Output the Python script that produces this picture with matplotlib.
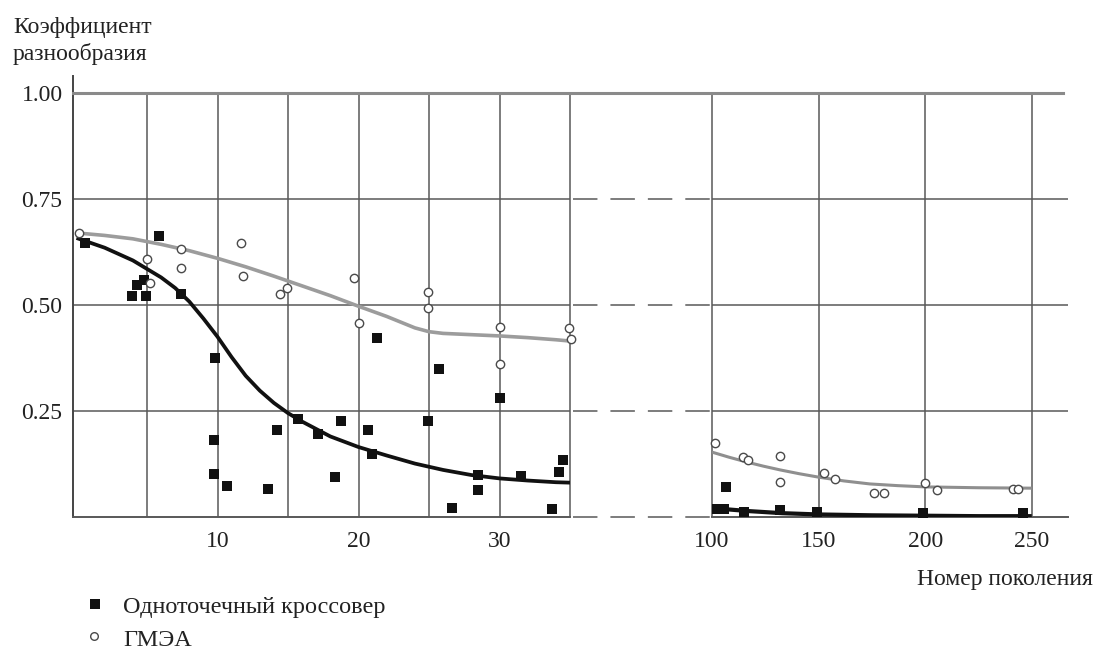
import matplotlib
matplotlib.use("Agg")
import matplotlib.pyplot as plt
from matplotlib.lines import Line2D
import matplotlib.transforms as mtransforms

plt.rcParams['font.family'] = ['Liberation Serif', 'DejaVu Serif']

# ---------------- data ----------------
# left panel (generations 0..35)
sq_left_x = [0.6, 3.9, 4.3, 4.8, 4.9, 5.85, 7.4, 9.8, 9.75, 9.75, 10.7, 13.6, 14.2, 15.7, 17.1,
             18.3, 18.75, 20.7, 20.95, 21.3, 24.9, 25.7, 26.6, 28.5, 28.5, 30.0, 31.5, 33.7, 34.2, 34.5]
sq_left_y = [0.646, 0.521, 0.547, 0.559, 0.521, 0.663, 0.526, 0.375, 0.181, 0.101, 0.073, 0.066, 0.205,
             0.231, 0.196, 0.095, 0.226, 0.205, 0.149, 0.422, 0.226, 0.349, 0.021, 0.099, 0.064, 0.281,
             0.097, 0.019, 0.106, 0.134]
circ_left_x = [0.2, 5.0, 5.2, 7.4, 7.4, 11.7, 11.8, 14.4, 14.9, 19.7, 20.0, 24.9, 24.9, 30.0, 30.0, 34.9, 35.1]
circ_left_y = [0.670, 0.608, 0.552, 0.632, 0.587, 0.646, 0.568, 0.526, 0.540, 0.564, 0.458, 0.531,
               0.493, 0.448, 0.361, 0.446, 0.420]
blk_left_x = [0, 2, 4, 6, 7, 8, 9, 10, 11, 12, 13, 14, 15, 16, 18, 20, 22, 24, 26, 28, 30, 32, 34, 35]
blk_left_y = [0.658, 0.635, 0.605, 0.565, 0.540, 0.508, 0.468, 0.425, 0.377, 0.333, 0.298, 0.269,
              0.245, 0.225, 0.190, 0.165, 0.145, 0.126, 0.111, 0.099, 0.091, 0.086, 0.082, 0.081]
gry_left_x = [0, 2, 4, 6, 8, 10, 12, 14, 16, 18, 20, 22, 24, 25, 26, 28, 30, 32, 34, 35]
gry_left_y = [0.670, 0.664, 0.656, 0.643, 0.628, 0.610, 0.590, 0.568, 0.545, 0.522, 0.497, 0.473,
              0.446, 0.437, 0.433, 0.430, 0.427, 0.423, 0.418, 0.415]

# right panel (generations 100..250)
sq_right_x = [102.5, 105.5, 106.6, 115, 132, 149.3, 199, 245.9]
sq_right_y = [0.020, 0.020, 0.071, 0.012, 0.016, 0.012, 0.010, 0.010]
circ_right_x = [101.4, 114.6, 117, 132, 132, 152.6, 157.7, 176, 180.8, 200, 205.6, 241.4, 243.7]
circ_right_y = [0.175, 0.141, 0.134, 0.144, 0.083, 0.104, 0.090, 0.057, 0.057, 0.080, 0.064, 0.066, 0.066]
gry_right_x = [100, 108, 116, 124, 132, 141, 150, 162, 174, 187, 200, 225, 250]
gry_right_y = [0.153, 0.141, 0.130, 0.120, 0.111, 0.102, 0.094, 0.085, 0.078, 0.074, 0.071, 0.069, 0.068]
blk_right_x = [100, 117, 133, 150, 175, 200, 225, 250]
blk_right_y = [0.021, 0.014, 0.009, 0.006, 0.004, 0.003, 0.002, 0.002]

yticks = [0.25, 0.50, 0.75, 1.00]
ytick_labels = ["0.25", "0.50", "0.75", "1.00"]
xticks_left = [10, 20, 30]
xticks_right = [100, 150, 200, 250]
vgrid_left = [5, 10, 15, 20, 25, 30, 35]
vgrid_right = [100, 150, 200, 250]

label_sq = "Одноточечный кроссовер"
label_circ = "ГМЭА"
ylabel_lines = ["Коэффициент", "разнообразия"]
xlabel = "Номер поколения"

# ---------------- styling ----------------
GRID = '#585858'
GRID_LW = 1.1
FS = 17
TXT = '#222222'

W, H = 1098, 653
fig = plt.figure(figsize=(W / 100, H / 100), dpi=100)

bottom = (H - 517) / H
height = (517 - 76) / H
ax1 = fig.add_axes([73 / W, bottom, 497 / W, height])
ax2 = fig.add_axes([712 / W, bottom, 356 / W, height])

for ax in (ax1, ax2):
    ax.set_ylim(0, 1.04)
    ax.set_facecolor('none')
    for s in ('top', 'right'):
        ax.spines[s].set_visible(False)
    ax.spines['bottom'].set_color(GRID)
    ax.spines['bottom'].set_linewidth(1.4)
    ax.tick_params(length=0, labelsize=FS, labelcolor=TXT)

ax1.set_xlim(-0.25, 35)
ax2.set_xlim(100, 267)

ax1.spines['left'].set_color('#444444')
ax1.spines['left'].set_linewidth(1.4)
ax2.spines['left'].set_visible(False)

# grid
for yv in yticks[:-1]:
    ax1.axhline(yv, color=GRID, lw=GRID_LW, zorder=1)
    ax2.axhline(yv, color=GRID, lw=GRID_LW, zorder=1)
ax1.vlines(vgrid_left, 0, 1.0, color=GRID, lw=GRID_LW, zorder=1, clip_on=False)
ax2.vlines(vgrid_right, 0, 1.0, color=GRID, lw=GRID_LW, zorder=1, clip_on=False)

# top line spanning both panels & dashed gap lines
fig_tr = mtransforms.blended_transform_factory(fig.transFigure, ax1.transData)
x_l = ax1.get_position().x0
x_r1 = ax1.get_position().x1
x_l2 = ax2.get_position().x0
x_r2 = ax2.get_position().x1
fig.add_artist(Line2D([x_l, x_r2 - 5 / W], [1.0, 1.0], transform=fig_tr,
                      color='#8a8a8a', lw=2.2, zorder=1))
for yv in [0.0] + yticks[:-1]:
    fig.add_artist(Line2D([x_r1 + 3 / W, x_l2], [yv, yv], transform=fig_tr,
                          color=GRID, lw=1.1, linestyle=(0, (16, 8.5)), zorder=1))

# ticks
ax1.set_yticks(yticks)
ax1.set_yticklabels(ytick_labels)
ax1.tick_params(axis='y', pad=7.5)
ax1.set_xticks(xticks_left)
ax1.set_xticklabels([str(v) for v in xticks_left])
ax1.tick_params(axis='x', pad=10)
ax2.set_yticks([])
ax2.set_xticks(xticks_right)
ax2.set_xticklabels([str(v) for v in xticks_right])
ax2.tick_params(axis='x', pad=10)

# curves
ax1.plot(gry_left_x, gry_left_y, color='#9c9c9c', lw=2.6, zorder=3, solid_capstyle='butt')
ax1.plot(blk_left_x, blk_left_y, color='#111111', lw=2.7, zorder=3, solid_capstyle='butt')
ax2.plot(gry_right_x, gry_right_y, color='#8f8f8f', lw=2.2, zorder=3, solid_capstyle='butt')
ax2.plot(blk_right_x, blk_right_y, color='#111111', lw=3.0, zorder=3, solid_capstyle='butt')

# markers
sq_kw = dict(marker='s', s=46, color='#111111', linewidths=0, zorder=4, clip_on=False)
ci_kw = dict(marker='o', s=36, facecolors='white', edgecolors='#4a4a4a', linewidths=1.0,
             zorder=5, clip_on=False)
ax1.scatter(sq_left_x, sq_left_y, **sq_kw)
ax1.scatter(circ_left_x, circ_left_y, **ci_kw)
ax2.scatter(sq_right_x, sq_right_y, **sq_kw)
ax2.scatter(circ_right_x, circ_right_y, **ci_kw)

# axis titles
fig.text(13 / W, 1 - 33 / H, ylabel_lines[0], ha='left', va='baseline', fontsize=FS, color=TXT)
fig.text(13 / W, 1 - 60 / H, ylabel_lines[1], ha='left', va='baseline', fontsize=FS, color=TXT)
fig.text(1093 / W, 1 - 585 / H, xlabel, ha='right', va='baseline', fontsize=FS, color=TXT)

# legend (drawn manually)
fig.add_artist(Line2D([95 / W], [1 - 604 / H], transform=fig.transFigure, marker='s', ls='none',
                      color='#111111', ms=7, mew=0))
fig.add_artist(Line2D([94 / W], [1 - 636 / H], transform=fig.transFigure, marker='o', ls='none',
                      mfc='white', mec='#4a4a4a', ms=5.5, mew=1.0))
fig.text(123 / W, 1 - 613 / H, label_sq, ha='left', va='baseline', fontsize=FS + 0.5, color=TXT)
fig.text(123 / W, 1 - 646 / H, label_circ, ha='left', va='baseline', fontsize=FS + 0.5, color=TXT)

fig.savefig('out.png', dpi=100)
